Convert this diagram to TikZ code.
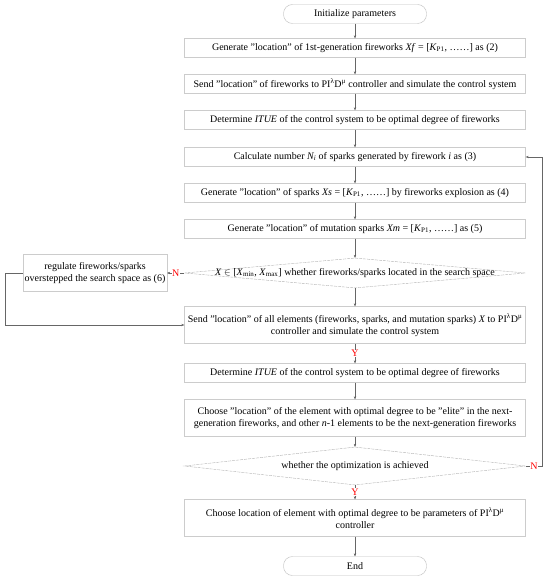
\documentclass[tikz,border=0pt]{standalone}
\usepackage{fontspec}
\setmainfont{Liberation Serif}
\usetikzlibrary{shapes.geometric,arrows.meta}
\begin{document}
\begin{tikzpicture}[x=1pt,y=-1pt,
  thin,font=\fontsize{10}{12}\selectfont,
  >={Stealth[length=3pt,width=2.4pt]},
  box node/.style={rectangle,draw=black!20,fill=white,minimum width=341pt,minimum height=19pt,inner sep=1pt,align=center},
  tall node/.style={box node,minimum height=37pt},
  end node/.style={rectangle,rounded corners=9pt,draw=black!25,fill=white,minimum width=143pt,minimum height=19pt},
  dec node/.style={diamond,draw=black!30,dash pattern=on 3pt off 1pt,minimum width=341pt,minimum height=30pt,inner sep=0pt},
  flow/.style={draw=black!60,->},
  yn/.style={text=red,fill=white,inner sep=0.6pt}]

  \useasboundingbox[fill=white] (0,0) rectangle (550,585);

  \node[end node] (start) at (355,14) {Initialize parameters};
  \node[box node] (gen1) at (355,48) {Generate "location" of 1st-generation fireworks \textit{Xf} = [\textit{K}\textsubscript{P1}, ……] as (2)};
  \node[box node] (send1) at (355,84) {Send "location" of fireworks to PI\textsuperscript{λ}D\textsuperscript{μ} controller and simulate the control system};
  \node[box node] (det1) at (355,120) {Determine \textit{ITUE} of the control system to be optimal degree of fireworks};
  \node[box node] (calc) at (355,157) {Calculate number \textit{N\textsubscript{i}} of sparks generated by firework \textit{i} as (3)};
  \node[box node] (gens) at (355,193) {Generate "location" of sparks \textit{Xs} = [\textit{K}\textsubscript{P1}, ……] by fireworks explosion as (4)};
  \node[box node] (genm) at (355,229) {Generate "location" of mutation sparks \textit{Xm} = [\textit{K}\textsubscript{P1}, ……] as (5)};
  \node[dec node] (inspace) at (355,273) {};
  \node (inspacetext) at (inspace) {\textit{X} $\in$ [\textit{X}\textsubscript{min}, \textit{X}\textsubscript{max}] whether fireworks/sparks located in the search space};
  \node[box node,minimum width=144pt,minimum height=37pt] (regulate) at (95,273) {regulate fireworks/sparks\\overstepped the search space as (6)};
  \node[tall node] (sendall) at (355,325) {Send "location" of all elements (fireworks, sparks, and mutation sparks) \textit{X} to PI\textsuperscript{λ}D\textsuperscript{μ}\\controller and simulate the control system};
  \node[box node] (det2) at (355,373) {Determine \textit{ITUE} of the control system to be optimal degree of fireworks};
  \node[tall node] (elite) at (355,418) {Choose "location" of the element with optimal degree to be "elite" in the next-\\generation fireworks, and other \textit{n}-1 elements to be the next-generation fireworks};
  \node[dec node,minimum height=38pt] (optimal) at (355,466) {};
  \node (optimaltext) at (optimal) {whether the optimization is achieved};
  \node[tall node] (final) at (355,518) {Choose location of element with optimal degree to be parameters of PI\textsuperscript{λ}D\textsuperscript{μ}\\controller};
  \node[end node] (end) at (355,566) {End};

  \coordinate (regloop) at (5,273);
  \coordinate (back) at (542,466);

  \path[flow]
   (start) edge (gen1)
   (gen1) edge (send1)
   (send1) edge (det1)
   (det1) edge (calc)
   (calc) edge (gens)
   (gens) edge (genm)
   (genm) edge (inspace)
   (inspace) edge (sendall)
   (inspace) edge node[yn]{N} (regulate)
   (sendall) edge node[yn]{Y} (det2)
   (det2) edge (elite)
   (elite) edge (optimal)
   (optimal) edge node[yn]{Y} (final)
   (final) edge (end);

  \draw[flow] (regulate.west) -- (regloop) |- (sendall.west);
  \draw[flow] (optimal.east) -- node[yn]{N} (back) |- (calc.east);
\end{tikzpicture}
\end{document}
